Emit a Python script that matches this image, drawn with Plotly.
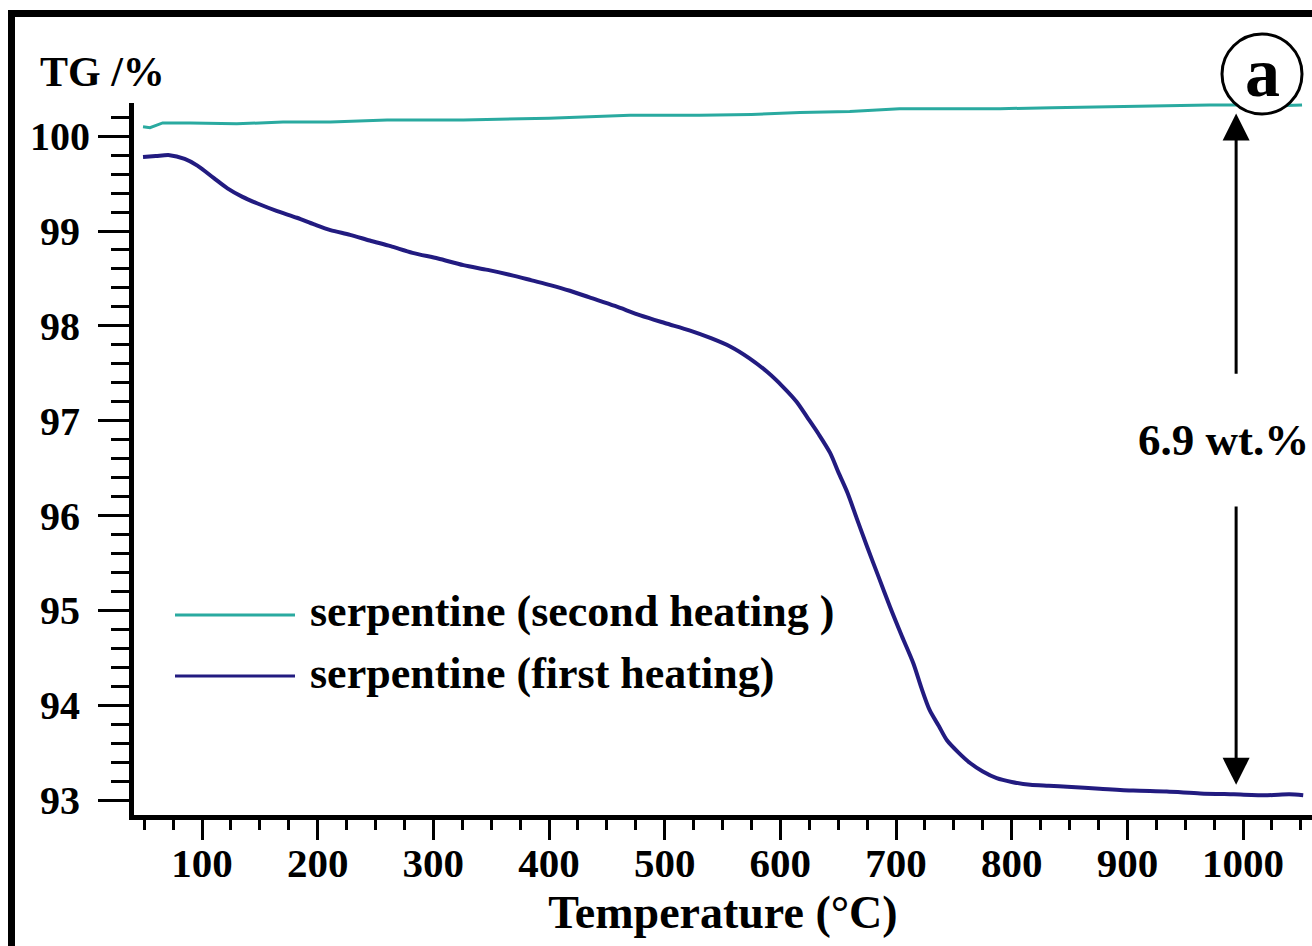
import plotly.graph_objects as go

# ---- data ----
temp_first = [49, 60, 72, 85, 96, 110, 122, 135, 148, 165, 182, 197, 211, 228, 245, 263, 282, 304,
              326, 347, 369, 385, 401, 418, 435, 457, 479, 500, 522, 540, 557, 573, 589, 602,
              614, 623, 633, 643, 650, 658, 666, 675, 685, 695, 705, 715, 722, 729, 737, 744,
              754, 764, 775, 787, 800, 816, 832, 848, 876, 905, 934, 963, 992, 1021, 1040, 1052]
tg_first = [99.78, 99.79, 99.80, 99.76, 99.69, 99.56, 99.45, 99.36, 99.29, 99.21, 99.14, 99.07, 99.01,
            98.96, 98.90, 98.84, 98.77, 98.71, 98.64, 98.59, 98.53, 98.48, 98.43, 98.37, 98.30,
            98.21, 98.11, 98.03, 97.95, 97.87, 97.78, 97.66, 97.51, 97.36, 97.20, 97.04, 96.86,
            96.66, 96.46, 96.24, 95.97, 95.67, 95.35, 95.03, 94.73, 94.44, 94.18, 93.95, 93.78,
            93.63, 93.50, 93.39, 93.30, 93.23, 93.19, 93.16, 93.15, 93.14, 93.12, 93.10, 93.09,
            93.07, 93.06, 93.05, 93.06, 93.05]

temp_second = [49, 55, 66, 90, 130, 170, 211, 260, 326, 400, 470, 530, 575, 617, 660, 703,
               750, 790, 835, 876, 920, 971, 1000, 1030, 1051]
tg_second = [100.10, 100.09, 100.14, 100.14, 100.13, 100.15, 100.15, 100.17, 100.17, 100.19,
             100.22, 100.22, 100.23, 100.25, 100.26, 100.29, 100.29, 100.29, 100.30, 100.31,
             100.32, 100.33, 100.33, 100.32, 100.33]

names = ["serpentine (second heating )", "serpentine (first heating)"]
colors = ["#2aaaa0", "#221b80"]

y_ticks = [93, 94, 95, 96, 97, 98, 99, 100]
y_ticktext = ["93\u00a0", "94\u00a0", "95\u00a0", "96\u00a0",
              "97\u00a0", "98\u00a0", "99\u00a0", "100"]
x_ticks = [100, 200, 300, 400, 500, 600, 700, 800, 900, 1000]

loss_label = "6.9 wt.%"
panel_label = "a"
y_title = "TG /%"
x_title = "Temperature (°C)"

SERIF = "Liberation Serif"

fig = go.Figure()
fig.add_trace(go.Scatter(x=temp_second, y=tg_second, mode="lines", name=names[0],
                         line=dict(color=colors[0], width=3), showlegend=False))
fig.add_trace(go.Scatter(x=temp_first, y=tg_first, mode="lines", name=names[1],
                         line=dict(color=colors[1], width=4, shape="spline", smoothing=0.8),
                         showlegend=False))

W, H = 1312, 946
L, R, T, B = 134, 0, 103, 131
pw, ph = W - L - R, H - T - B


def px(xp):
    return (xp - L) / pw


def py(yp):
    return (H - B - yp) / ph


fig.update_layout(
    width=W, height=H,
    margin=dict(l=L, r=R, t=T, b=B, pad=0),
    paper_bgcolor="white", plot_bgcolor="white",
    font=dict(family=SERIF, color="black"),
    xaxis=dict(range=[41.2, 1059.6], showgrid=False, zeroline=False,
               showline=True, linewidth=5, linecolor="black",
               tickmode="array", tickvals=x_ticks, ticks="outside", ticklen=20, tickwidth=3,
               tickcolor="black", ticklabelstandoff=-12,
               tickfont=dict(family=SERIF, size=41, weight="bold", color="black"),
               minor=dict(dtick=25, tick0=0, ticks="outside", ticklen=10, tickwidth=3,
                          tickcolor="black", showgrid=False),
               title=dict(text=x_title, font=dict(family=SERIF, size=46, weight="bold"),
                          standoff=12)),
    yaxis=dict(range=[92.842, 100.35], showgrid=False, zeroline=False,
               showline=True, linewidth=5, linecolor="black",
               tickmode="array", tickvals=y_ticks, ticktext=y_ticktext,
               ticks="outside", ticklen=31, tickwidth=3, tickcolor="black",
               tickfont=dict(family=SERIF, size=40, weight="bold", color="black"),
               minor=dict(dtick=0.2, tick0=93, ticks="outside", ticklen=18, tickwidth=3,
                          tickcolor="black", showgrid=False)),
)

shapes = []
# outer black frame (top and left edges visible)
shapes.append(dict(type="line", xref="paper", yref="paper",
                   x0=px(8), x1=px(1330), y0=py(13.5), y1=py(13.5),
                   line=dict(color="black", width=7)))
shapes.append(dict(type="line", xref="paper", yref="paper",
                   x0=px(11.5), x1=px(11.5), y0=py(10), y1=py(960),
                   line=dict(color="black", width=7)))
# legend sample lines
shapes.append(dict(type="line", xref="paper", yref="paper",
                   x0=px(175), x1=px(295), y0=py(615), y1=py(615),
                   line=dict(color=colors[0], width=3)))
shapes.append(dict(type="line", xref="paper", yref="paper",
                   x0=px(175), x1=px(295), y0=py(676), y1=py(676),
                   line=dict(color=colors[1], width=3)))
# circle around panel letter
shapes.append(dict(type="circle", xref="paper", yref="paper", layer="above",
                   x0=px(1222), x1=px(1302), y0=py(114), y1=py(34),
                   fillcolor="white", line=dict(color="black", width=3)))
fig.update_layout(shapes=shapes)

ann = []
ann.append(dict(text=y_title, xref="paper", yref="paper", x=px(38), y=py(72),
                xanchor="left", yanchor="middle", showarrow=False,
                font=dict(family=SERIF, size=42, weight="bold", color="black")))
for i, nm in enumerate(names):
    ann.append(dict(text=nm, xref="paper", yref="paper", x=px(308), y=py([611, 673][i]),
                    xanchor="left", yanchor="middle", showarrow=False,
                    font=dict(family=SERIF, size=44, weight="bold", color="black")))
ann.append(dict(text=panel_label, xref="paper", yref="paper", x=px(1262), y=py(72),
                xanchor="center", yanchor="middle", showarrow=False,
                font=dict(family=SERIF, size=70, weight="bold", color="black")))
ann.append(dict(text=loss_label, xref="x", yref="y", x=983, y=96.8,
                xanchor="center", yanchor="middle", showarrow=False,
                font=dict(family=SERIF, size=45, weight="bold", color="black")))
# arrows
ann.append(dict(text="", xref="x", yref="y", axref="x", ayref="y",
                x=994, y=100.24, ax=994, ay=97.48, showarrow=True,
                arrowhead=2, arrowsize=1.8, arrowwidth=3, arrowcolor="black"))
ann.append(dict(text="", xref="x", yref="y", axref="x", ayref="y",
                x=994, y=93.16, ax=994, ay=96.11, showarrow=True,
                arrowhead=2, arrowsize=1.8, arrowwidth=3, arrowcolor="black"))
fig.update_layout(annotations=ann)

fig.write_html("out.html")
